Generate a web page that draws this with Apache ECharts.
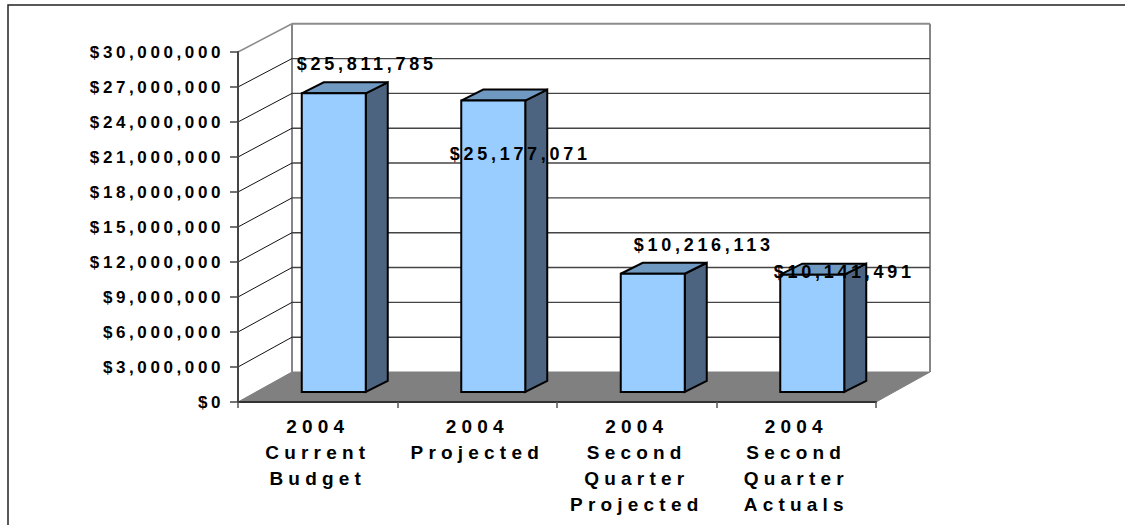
<!DOCTYPE html>
<html>
<head>
<meta charset="utf-8">
<script src="https://cdn.jsdelivr.net/npm/echarts@6/dist/echarts.min.js"></script>
<style>
html, body { margin: 0; background: #fff; }
#chart { width: 1125px; height: 525px; }
/* canvas text has no tracking in zrender, so use the svg renderer and space it here */
#chart text { letter-spacing: 3.6px; }
#chart text[style*="18px"] { letter-spacing: 3.7px; }
#chart text[style*="19px"] { letter-spacing: 5.2px; }
</style>
</head>
<body>
<div id="chart"></div>
<script>
var categories = [
    '2004\nCurrent\nBudget',
    '2004\nProjected',
    '2004\nSecond\nQuarter\nProjected',
    '2004\nSecond\nQuarter\nActuals'
];
var budgetValues = [25811785, 25177071, 10216113, 10141491];
var tickValues = [3000000, 6000000, 9000000, 12000000, 15000000, 18000000, 21000000, 24000000, 27000000];

// 3d look: how far the back wall sits from the front of the plot
var WALL_DX = 54, WALL_DY = -30;
// things further back come out slightly shorter
var WALL_SCALE = 0.995, BAR_SCALE = 0.992;
// bar front sits a bit behind the plot front, side faces go further back
var BAR_DX = 16, BAR_DY = -10, SIDE_DX = 22, SIDE_DY = -11;
var BAR_WIDTH = 64;
// hand placed like the original labels, relative to the top of the bar front
var labelNudge = [[33, -29], [27, 53], [51, -29], [32, -3]];

function money(v) {
    return '$' + Number(v).toLocaleString('en-US');
}

function line(x1, y1, x2, y2, color, width) {
    return {
        type: 'line',
        shape: { x1: x1, y1: y1, x2: x2, y2: y2 },
        style: { stroke: color, lineWidth: width }
    };
}

function poly(points, fill, stroke, width) {
    return {
        type: 'polygon',
        shape: { points: points },
        style: { fill: fill, stroke: stroke, lineWidth: width, lineJoin: 'miter' }
    };
}

function backY(g, y) {
    var bottom = g.y + g.height;
    return bottom + WALL_DY - (bottom - y) * WALL_SCALE;
}

function renderWalls(params, api) {
    var g = params.coordSys;
    var bottom = g.y + g.height, left = g.x, right = g.x + g.width;
    var backTop = backY(g, g.y), backBottom = bottom + WALL_DY;
    return {
        type: 'group',
        children: [
            poly([[left, bottom], [right, bottom], [right + WALL_DX, backBottom], [left + WALL_DX, backBottom]], '#808080', '#808080', 1),
            line(left + WALL_DX, backTop, left + WALL_DX, backBottom, '#868686', 2),
            line(right + WALL_DX, backTop, right + WALL_DX, backBottom, '#868686', 2),
            line(left + WALL_DX, backTop, right + WALL_DX, backTop, '#8c8c8c', 2),
            line(left, g.y, left + WALL_DX, backTop, '#8c8c8c', 1.5)
        ]
    };
}

function renderGridLine(params, api) {
    var p = api.coord([0, api.value(0)]);
    var g = params.coordSys;
    var by = backY(g, p[1]);
    return {
        type: 'group',
        children: [
            line(g.x, p[1], g.x + WALL_DX, by, '#111', 1),
            line(g.x + WALL_DX, by, g.x + g.width + WALL_DX, by, '#444', 1.4)
        ]
    };
}

function barTop(top, base) {
    return base[1] + BAR_DY - (base[1] - top[1]) * BAR_SCALE;
}

function renderBar(params, api) {
    var top = api.coord([api.value(0), api.value(1)]);
    var base = api.coord([api.value(0), 0]);
    var l = top[0] + BAR_DX - BAR_WIDTH / 2, r = l + BAR_WIDTH;
    var t = barTop(top, base), b = base[1] + BAR_DY;
    return {
        type: 'group',
        children: [
            poly([[r, t], [r + SIDE_DX, t + SIDE_DY], [r + SIDE_DX, b + SIDE_DY], [r, b]], '#4d6480', '#000', 2),
            poly([[l, t], [l + SIDE_DX, t + SIDE_DY], [r + SIDE_DX, t + SIDE_DY], [r, t]], '#7099c2', '#000', 2),
            poly([[l, t], [r, t], [r, b], [l, b]], '#99ccff', '#000', 2)
        ]
    };
}

function renderValueLabel(params, api) {
    var top = api.coord([api.value(0), api.value(1)]);
    var base = api.coord([api.value(0), 0]);
    var nudge = labelNudge[params.dataIndex];
    return {
        type: 'text',
        style: {
            text: money(api.value(1)),
            x: top[0] + BAR_DX + nudge[0],
            y: barTop(top, base) + nudge[1],
            align: 'center',
            verticalAlign: 'middle',
            fill: '#000',
            font: 'bold 18px "Liberation Sans"'
        }
    };
}

var barData = budgetValues.map(function (v, i) { return [i, v]; });

var chart = echarts.init(document.getElementById('chart'), null, { renderer: 'svg' });
chart.setOption({
    animation: false,
    backgroundColor: '#fff',
    grid: { left: 238, right: 249, top: 52, bottom: 123 },
    xAxis: {
        type: 'category',
        data: categories,
        z: 5,
        axisLine: { lineStyle: { color: '#333', width: 2 } },
        axisTick: { show: true, alignWithLabel: false, length: 6, lineStyle: { color: '#555', width: 1.5 } },
        axisLabel: {
            interval: 0,
            margin: 11,
            lineHeight: 26,
            color: '#000',
            fontFamily: 'Liberation Sans',
            fontWeight: 'bold',
            fontSize: 19
        }
    },
    yAxis: {
        type: 'value',
        min: 0,
        max: 30000000,
        interval: 3000000,
        z: 5,
        splitLine: { show: false },
        axisLine: { show: true, lineStyle: { color: '#444', width: 2 } },
        axisTick: { show: true, length: 8, lineStyle: { color: '#444', width: 1.5 } },
        axisLabel: {
            margin: 14,
            color: '#000',
            fontFamily: 'Liberation Sans',
            fontWeight: 'bold',
            fontSize: 17,
            formatter: money
        }
    },
    graphic: [{
        type: 'polyline',
        shape: { points: [[8, 525], [8, 5], [1125, 5]] },
        style: { fill: 'none', stroke: '#222', lineWidth: 1.5 }
    }],
    series: [
        { type: 'custom', z: 1, data: [[0]], renderItem: renderWalls, silent: true },
        { type: 'custom', z: 2, data: tickValues.map(function (v) { return [v]; }), encode: { y: 0 }, renderItem: renderGridLine, silent: true },
        { type: 'custom', z: 3, data: barData, encode: { x: 0, y: 1 }, renderItem: renderBar },
        { type: 'custom', z: 6, data: barData, encode: { x: 0, y: 1 }, renderItem: renderValueLabel }
    ]
});
</script>
</body>
</html>
